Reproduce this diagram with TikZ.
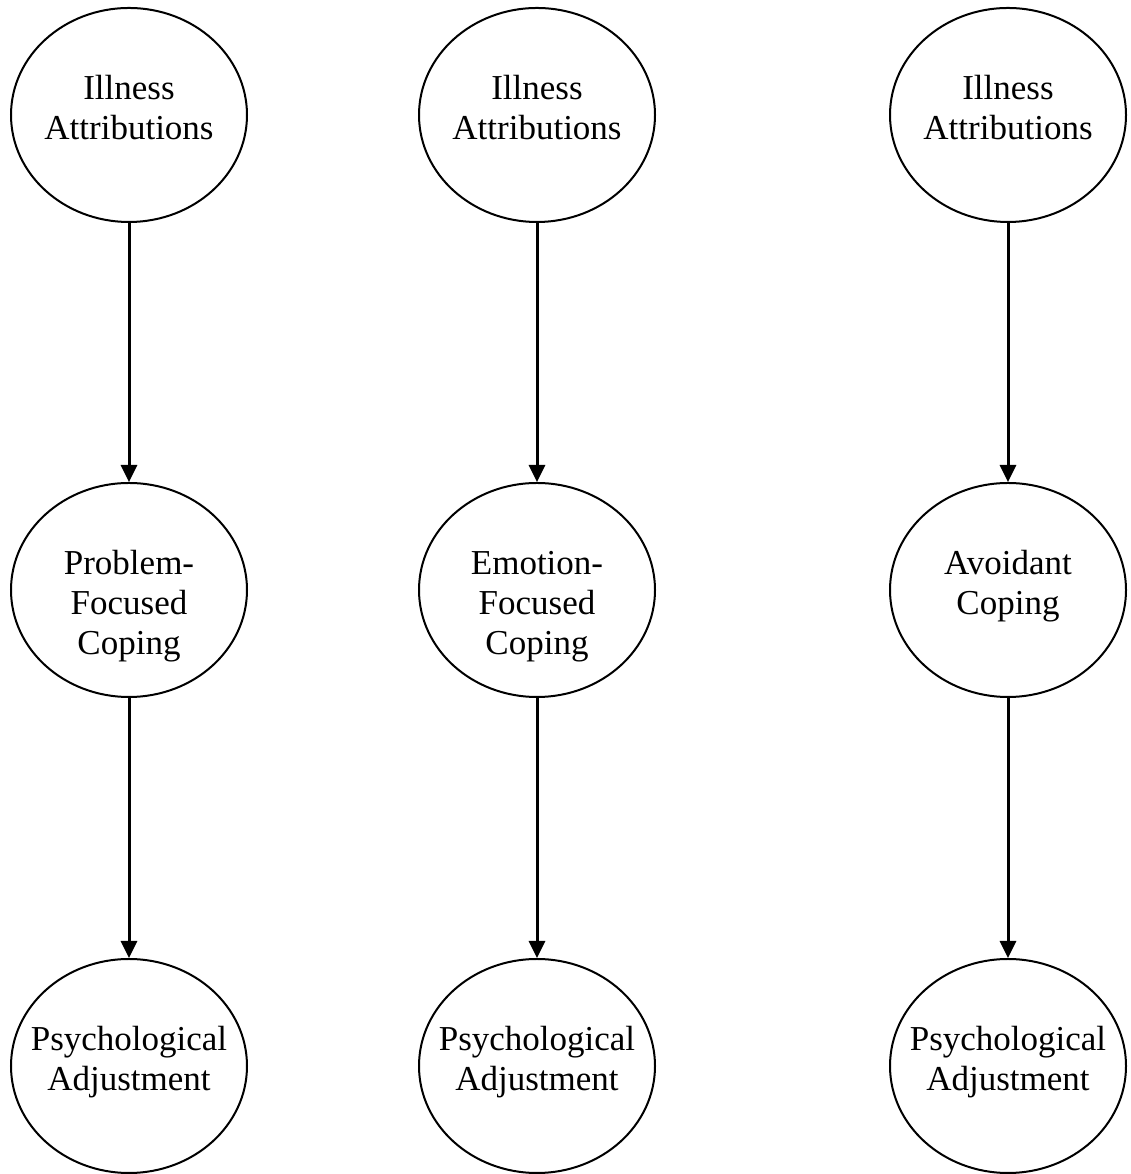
\documentclass[tikz,border=0pt]{standalone}
\usepackage{fontspec}
\setmainfont{Liberation Serif}
\usetikzlibrary{arrows.meta,shapes.geometric}
\begin{document}
\begin{tikzpicture}[x=1pt,y=1pt,
  oval/.style={draw=black, line width=2pt, ellipse, inner sep=0pt,
    minimum width=236pt, minimum height=214pt},
  lbl/.style={anchor=base, inner sep=0pt, font=\fontsize{35}{40}\selectfont},
  link/.style={line width=3pt, -{Triangle[length=17pt,width=16pt]}, shorten <=-1pt}]
\useasboundingbox (0,0) rectangle (1130,1174);

% column 1: problem-focused coping
\node[oval] (ia1) at (129,1059) {};
\node[oval] (cp1) at (129,584) {};
\node[oval] (pa1) at (129,108) {};
% column 2: emotion-focused coping
\node[oval] (ia2) at (537,1059) {};
\node[oval] (cp2) at (537,584) {};
\node[oval] (pa2) at (537,108) {};
% column 3: avoidant coping
\node[oval] (ia3) at (1008,1059) {};
\node[oval] (cp3) at (1008,584) {};
\node[oval] (pa3) at (1008,108) {};

% labels, first baseline just above each centre
\foreach \c in {1,2,3}{
  \node[lbl] (tia\c) at ([yshift=15pt]ia\c.center)
    {\begin{tabular}[t]{@{}c@{}}Illness\\Attributions\end{tabular}};
  \node[lbl] (tpa\c) at ([yshift=15pt]pa\c.center)
    {\begin{tabular}[t]{@{}c@{}}Psychological\\Adjustment\end{tabular}};
}
\node[lbl] (tcp1) at ([yshift=15pt]cp1.center)
  {\begin{tabular}[t]{@{}c@{}}Problem-\\Focused\\Coping\end{tabular}};
\node[lbl] (tcp2) at ([yshift=15pt]cp2.center)
  {\begin{tabular}[t]{@{}c@{}}Emotion-\\Focused\\Coping\end{tabular}};
\node[lbl] (tcp3) at ([yshift=15pt]cp3.center)
  {\begin{tabular}[t]{@{}c@{}}Avoidant\\Coping\end{tabular}};

% paths
\foreach \c in {1,2,3}{
  \draw[link] (ia\c.south) -- (cp\c.north);
  \draw[link] (cp\c.south) -- (pa\c.north);
}
\end{tikzpicture}
\end{document}
